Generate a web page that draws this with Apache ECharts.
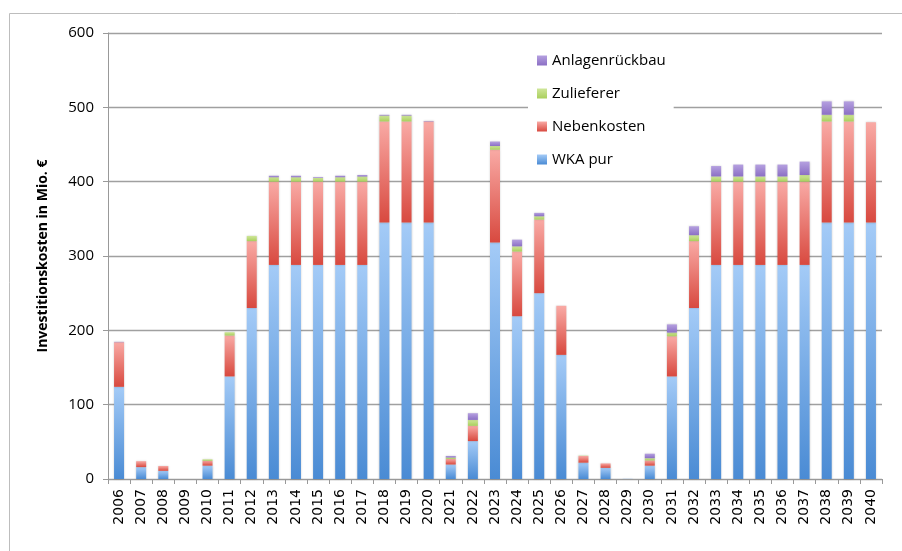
<!DOCTYPE html>
<html>
<head>
<meta charset="utf-8">
<script src="https://cdn.jsdelivr.net/npm/echarts@6/dist/echarts.min.js"></script>
<style>html,body{margin:0;padding:0;background:#fff;}#c{width:902px;height:551px;}</style>
</head>
<body>
<div id="c"></div>
<script>
var years = ['2006','2007','2008','2009','2010','2011','2012','2013','2014','2015','2016','2017','2018','2019','2020','2021','2022','2023','2024','2025','2026','2027','2028','2029','2030','2031','2032','2033','2034','2035','2036','2037','2038','2039','2040'];
var wkaPur = [124,16,11,0,18,138,230,288,288,288,288,288,345,345,345,19.5,51,318,219,250,167,22,15,0.3,18,138,230,288,288,288,288,288,345,345,345];
var nebenkosten = [60,8,6.5,0,6.5,55,90,112,112,112,112,112,136,136,136,7.5,20.5,125,87,99,66,9,6,0,7,54,90,112,112,112,112,112,136,136,135];
var zulieferer = [0,0,0,0,2,4.5,7,6,6,5,6,7,8,8,0,2,8,5,7,4.5,0,0.5,0,0,3,5,8,7,7,7,7,9,9,9,0];
var anlagenrueckbau = [0.5,0,0,0,0,0,0,2,2,1,2,2,1,1,0.5,2,9,6,9,4.5,0,0,0,0,6,11,12,14,16,16,16,18,18,18,0];
var yTicks = [0,100,200,300,400,500,600];

function grad(top, bottom){
  return {type:'linear',x:0,y:0,x2:0,y2:1,colorStops:[{offset:0,color:top},{offset:1,color:bottom}]};
}
var chart = echarts.init(document.getElementById('c'));
function mk(name, data, top, bottom){
  return {
    name: name, type: 'bar', stack: 'total', data: data, barWidth: 10,
    itemStyle: {color: grad(top, bottom), shadowColor:'rgba(0,0,0,0.18)', shadowBlur:2},
    emphasis: {disabled: true}
  };
}
chart.setOption({
  animation: false,
  graphic: [{type:'rect', shape:{x:9.5,y:13.5,width:1000,height:1000}, style:{fill:'none', stroke:'#bdbdbd', lineWidth:1}, silent:true}],
  grid: {left:108, right:20, top:33, bottom:72},
  legend: {
    data: ['Anlagenrückbau','Zulieferer','Nebenkosten','WKA pur'],
    orient: 'vertical', left: 528, top: 47,
    itemWidth: 10, itemHeight: 10, itemGap: 18,
    backgroundColor: '#fff', padding: [6,8,6,9],
    icon: 'rect',
    textStyle: {fontFamily:'Open Sans', fontSize:15, color:'#000'}
  },
  xAxis: {
    type: 'category', data: years,
    axisLine: {lineStyle:{color:'#999', width:1}},
    axisTick: {show:true, alignWithLabel:false, length:5, lineStyle:{color:'#999'}},
    axisLabel: {rotate:90, fontFamily:'DejaVu Sans', fontSize:14, color:'#000', margin:10, interval:0}
  },
  yAxis: {
    type: 'value', min: yTicks[0], max: yTicks[yTicks.length-1], interval: 100,
    name: 'Investitionskosten in Mio. €', nameLocation: 'middle', nameGap: 58,
    nameTextStyle: {fontFamily:'Open Sans', fontWeight:'bold', fontSize:14, color:'#000'},
    axisLine: {show:true, lineStyle:{color:'#999'}},
    axisTick: {show:true, length:5, inside:false, lineStyle:{color:'#999'}},
    axisLabel: {fontFamily:'Open Sans', fontSize:15, color:'#000', margin:14},
    splitLine: {lineStyle:{color:'#a0a0a0', width:1.3}}
  },
  series: [
    mk('WKA pur', wkaPur, '#a4cbf7', '#4a8bd4'),
    mk('Nebenkosten', nebenkosten, '#f9aaa5', '#d8493f'),
    mk('Zulieferer', zulieferer, '#cfe69a', '#a9cf5c'),
    mk('Anlagenrückbau', anlagenrueckbau, '#b5a0e0', '#8b6fc4')
  ],
  color: ['#5b9ee2','#e2625a','#b7d87a','#9b80d0']
});
</script>
</body>
</html>
